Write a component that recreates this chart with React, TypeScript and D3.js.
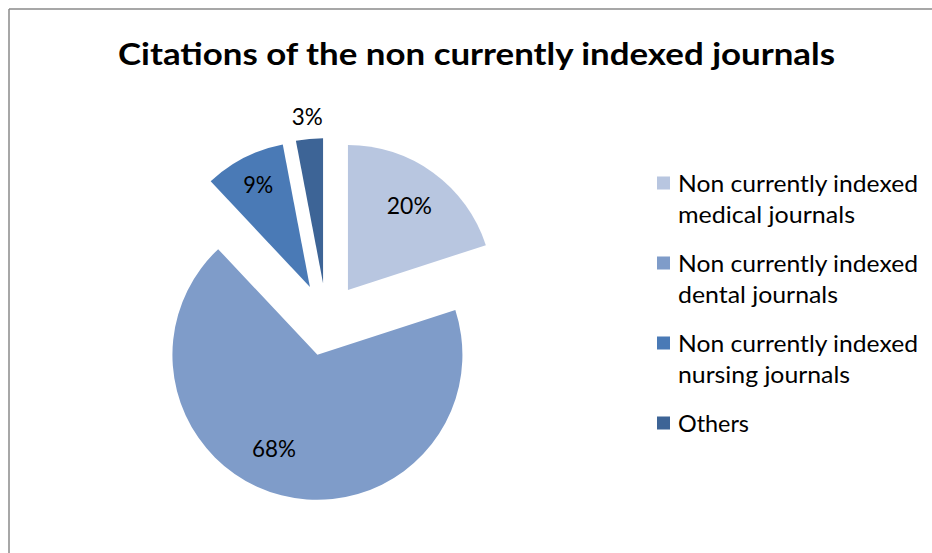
import React from "react";
import * as d3 from "d3";

const TITLE = "Citations of the non currently indexed journals";
const CATEGORIES = [
  "Non currently indexed medical journals",
  "Non currently indexed dental journals",
  "Non currently indexed nursing journals",
  "Others",
];
const LEGEND_LINES = [
  ["Non currently indexed", "medical journals"],
  ["Non currently indexed", "dental journals"],
  ["Non currently indexed", "nursing journals"],
  ["Others"],
];
const VALUES = [20, 68, 9, 3];
const LABELS = ["20%", "68%", "9%", "3%"];
const COLORS = ["#B8C6E0", "#7F9CC9", "#4A7AB6", "#3D6496"];

const W = 932;
const H = 553;
const FONT = "Lato, 'Open Sans', 'DejaVu Sans', sans-serif";

export default function App() {
  const cx = 326.5;
  const cy = 319.5;
  const R = 145;
  const explode = 36.5;

  const pie = d3.pie<number>().sort(null).value((d) => d).startAngle(0).endAngle(2 * Math.PI);
  const arcs = pie(VALUES);
  const arcGen = d3.arc<d3.PieArcDatum<number>>().innerRadius(0).outerRadius(R);

  const legendTextWidths: Record<string, number> = {
    "Non currently indexed": 240,
    "medical journals": 177,
    "dental journals": 160,
    "nursing journals": 172,
    "Others": 71,
  };
  const labelWidths: Record<string, number> = { "20%": 45, "68%": 44, "9%": 30, "3%": 31 };

  return (
    <svg
      width={W}
      height={H}
      style={{ position: "absolute", left: 0, top: 0, background: "#fff" }}
    >
      <rect x={0} y={0} width={W} height={H} fill="#fff" />
      <line x1={9} y1={9} x2={W} y2={9} stroke="#8a8a8a" strokeWidth={1.5} />
      <line x1={9} y1={9} x2={9} y2={H} stroke="#8a8a8a" strokeWidth={1.5} />

      <text
        x={476.5}
        y={65}
        textAnchor="middle"
        fontFamily={FONT}
        fontWeight="bold"
        fontSize={30}
        textLength={717}
        lengthAdjust="spacingAndGlyphs"
        fill="#000"
      >
        {TITLE}
      </text>

      {arcs.map((a, i) => {
        const mid = (a.startAngle + a.endAngle) / 2;
        const ox = cx + explode * Math.sin(mid);
        const oy = cy - explode * Math.cos(mid);
        const span = a.endAngle - a.startAngle;
        const small = span < 0.3;
        const labelR = small ? R * 1.15 : span < 1 ? 114 : i === 1 ? 104 : R * 0.72;
        const labelAngle = i === 1 ? mid + 0.18 : mid;
        const lx = ox + labelR * Math.sin(labelAngle);
        const ly = oy - labelR * Math.cos(labelAngle);
        return (
          <g key={CATEGORIES[i]}>
            <path d={arcGen(a) || ""} transform={`translate(${ox},${oy})`} fill={COLORS[i]} />
            <text
              x={lx}
              y={ly + 8}
              textAnchor="middle"
              fontFamily={FONT}
              fontSize={23}
              textLength={labelWidths[LABELS[i]]}
              lengthAdjust="spacingAndGlyphs"
              fill="#000"
            >
              {LABELS[i]}
            </text>
          </g>
        );
      })}

      {LEGEND_LINES.map((lines, i) => {
        const baseY = 192 + i * 80;
        return (
          <g key={"lg" + i}>
            <rect x={657} y={baseY - 15.5} width={13} height={13} fill={COLORS[i]} />
            {lines.map((ln, j) => (
              <text
                key={j}
                x={678}
                y={baseY + j * 30.5}
                fontFamily={FONT}
                fontSize={23.5}
                textLength={legendTextWidths[ln]}
                lengthAdjust="spacingAndGlyphs"
                fill="#000"
              >
                {ln}
              </text>
            ))}
          </g>
        );
      })}
    </svg>
  );
}
